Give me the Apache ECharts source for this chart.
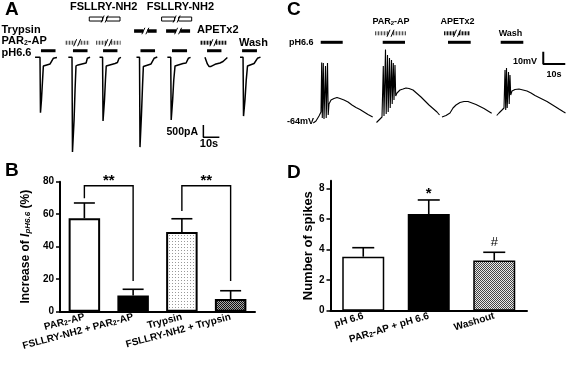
<!DOCTYPE html>
<html><head><meta charset="utf-8">
<script src="https://cdn.jsdelivr.net/npm/echarts@6/dist/echarts.min.js"></script>
<style>html,body{margin:0;padding:0;background:#fff}#c{width:567px;height:366px}</style>
</head><body><div id="c"></div>
<script>
// ---------- DATA ----------
// Panel A: whole-cell currents (time s, current pA)
const traceA1 = [[21.9,0],[25.0,0],[25.3,-2250],[25.9,-1740],[26.6,-920],[27.1,-350],[28.1,-310],[31.3,-270],[32.5,-250],[33.3,-40],[35.6,-10]];
const traceA2 = [[42.7,0],[45.0,0],[45.3,-3850],[46.3,-2550],[46.9,-1330],[47.5,-350],[48.8,-310],[52.5,-250],[53.8,-230],[54.6,-40],[56.3,0]];
const traceA3 = [[62.2,0],[64.1,0],[64.4,-2590],[65.3,-1740],[65.9,-920],[66.4,-350],[67.5,-310],[71.9,-250],[73.4,-210],[74.4,-40],[75.6,0]];
const traceA4 = [[85.3,0],[87.2,0],[87.5,-3650],[88.4,-2350],[89.1,-1130],[89.6,-370],[90.6,-310],[94.4,-270],[95.6,-230],[96.3,-40],[98.3,10]];
const traceA5 = [[104.6,0],[106.7,0],[107.0,-2550],[107.9,-1740],[108.6,-920],[109.4,-350],[110.6,-310],[114.4,-250],[116.3,-230],[117.7,-40],[119.1,0]];
const traceA6 = [[128.1,0],[129.1,0],[129.6,-270],[130.6,-370],[131.9,-370],[134.4,-285],[137.5,-230],[139.4,-170],[140.6,-90],[142.1,-10]];
const traceA7 = [[150,0],[151.9,0],[152.2,-2390],[153.1,-1740],[153.9,-920],[154.7,-350],[155.6,-310],[158.8,-250],[160,-210],[160.9,-40],[162.8,10]];
// drug applications in A (start s, end s)
const pHA   = [[25.6,34.7],[45.6,54.7],[64.4,73.4],[87.8,96.9],[107.5,116.9],[129.4,138.4],[151.3,160.6]];
const par2A = [[40.6,55.8],[60.0,75.4]];
const apetA = [[125.0,141.7]];
const trypA = [[83.8,97.9],[103.8,118.8]];
const fslA  = [[55.8,75.0],[101.0,119.8]];

// Panel C: membrane potential (time s, mV)
const traceC1 = [[13.77,-67.7],[15.0,-66.1],[16.36,-62.05],[17.27,-58.8],[17.59,-18.55],[17.86,-63.67],[18.32,-18.96],[18.64,-64.49],[19.32,-21.4],[19.64,-63.67],[20.23,-18.96],[20.55,-61.24],[20.91,-52.29],[21.82,-49.04],[23.18,-47.82],[24.55,-47.01],[25.91,-47.82],[27.73,-49.04],[29.55,-50.67],[31.36,-53.11],[33.18,-55.14],[35.0,-56.76],[36.82,-58.8],[38.64,-60.83],[40.77,-62.86]];
const traceC2 = [[42.5,-67.33],[43.64,-65.3],[45.0,-62.86],[45.59,-21.4],[45.91,-62.05],[46.59,-7.98],[46.91,-60.42],[47.5,-12.46],[47.82,-58.8],[48.41,-14.89],[48.73,-55.54],[49.32,-16.52],[49.64,-52.29],[50.14,-18.96],[50.45,-49.04],[50.91,-20.59],[51.23,-45.79],[51.82,-43.35],[53.18,-40.91],[54.55,-40.1],[55.91,-39.28],[57.27,-39.69],[59.09,-40.91],[60.91,-43.76],[62.73,-46.6],[64.55,-49.85],[66.36,-53.11],[68.18,-55.95],[70.0,-58.8],[71.14,-61.24]];
const traceC3 = [[72.27,-62.86],[74.09,-61.64],[75.91,-59.61],[77.27,-55.54],[78.64,-53.11],[80.45,-51.07],[82.27,-50.26],[84.09,-50.26],[85.91,-51.48],[87.73,-52.7],[89.55,-54.32],[91.36,-55.95],[93.18,-57.98],[94.86,-59.85]];
const traceC4 = [[97.14,-61.64],[98.18,-59.61],[99.55,-57.17],[100.45,-55.54],[100.91,-24.65],[101.23,-57.17],[101.59,-23.02],[101.91,-55.54],[102.5,-26.28],[102.82,-52.29],[103.18,-28.72],[103.5,-44.98],[104.09,-41.72],[105.45,-40.5],[107.27,-40.1],[109.09,-40.91],[110.91,-41.72],[112.73,-43.35],[114.55,-45.38],[116.36,-47.01],[118.18,-48.63],[120.0,-50.26],[121.82,-52.29],[123.64,-54.32],[125.45,-56.36],[127.27,-58.39],[128.41,-59.61]];
const pHC   = [[17.14,27.14],[45.32,55.45],[75.0,85.32],[98.95,109.23]];
const par2C = [[41.82,55.91]];
const apetC = [[73.18,85.0]];

// Panel B
const catsB = ['PAR2-AP','FSLLRY-NH2 + PAR2-AP','Trypsin','FSLLRY-NH2 + Trypsin'];
const meanB = [57.5, 9.9, 49.0, 7.8];
const semB  = [9.4, 3.9, 8.2, 5.1];
const bracketsB = [[0,1,69.8,18.9,77.5],[2,3,62.0,18.9,77.5]];
const bracketMarksB = ['**','**'];

// Panel D
const catsD = ['pH 6.6','PAR2-AP + pH 6.6','Washout'];
const meanD = [3.53, 6.32, 3.29];
const semD  = [0.59, 0.92, 0.53];
const marksD = ['', '*', '#'];

// ---------- STYLE / LAYOUT ----------
const FONT = '"Liberation Sans", Arial, Helvetica, sans-serif';
function pat(w,h,draw){const c=document.createElement('canvas');c.width=w;c.height=h;const g=c.getContext('2d');draw(g);return {image:c,repeat:'repeat'};}
const dotPat = pat(3,3,g=>{g.fillStyle='#fff';g.fillRect(0,0,3,3);g.fillStyle='#999';g.fillRect(1,1,1,1);});
const darkChk = pat(2,2,g=>{g.fillStyle='#aaa';g.fillRect(0,0,2,2);g.fillStyle='#111';g.fillRect(0,0,1,1);g.fillRect(1,1,1,1);});
const midChk = pat(2,2,g=>{g.fillStyle='#e8e8e8';g.fillRect(0,0,2,2);g.fillStyle='#444';g.fillRect(0,0,1,1);g.fillRect(1,1,1,1);});
const hatchLight = pat(3,4,g=>{g.fillStyle='#c8c8c8';g.fillRect(0,0,3,4);g.fillStyle='#555';g.fillRect(0,0,1,4);});
const hatchDark = pat(3,4,g=>{g.fillStyle='#999';g.fillRect(0,0,3,4);g.fillStyle='#111';g.fillRect(0,0,1,4);});

const kinds = {
  solid:  {h:3, brk:false, style:{fill:'#000'}},
  hLight: {h:4, brk:true,  style:{fill:hatchLight}},
  hDark:  {h:4, brk:true,  style:{fill:hatchDark}},
  black:  {h:3.5, brk:true, style:{fill:'#000'}},
  white:  {h:4, brk:true,  style:{fill:'#fff', stroke:'#000', lineWidth:1}}
};
function drugSeries(ax, intervals, level, kind){
  const k = kinds[kind];
  return {type:'custom', xAxisIndex:ax, yAxisIndex:ax, data:intervals, silent:true, z:5,
    renderItem:(params, api)=>{
      const p1 = api.coord([api.value(0), level]);
      const p2 = api.coord([api.value(1), level]);
      const y = p1[1], h = k.h;
      const ch = [];
      if(!k.brk){
        ch.push({type:'rect', shape:{x:p1[0], y:y-h/2, width:p2[0]-p1[0], height:h}, style:k.style});
      } else {
        const xm = (p1[0]+p2[0])/2, g = 2;
        ch.push({type:'rect', shape:{x:p1[0], y:y-h/2, width:xm-g-p1[0], height:h}, style:k.style});
        ch.push({type:'rect', shape:{x:xm+g, y:y-h/2, width:p2[0]-xm-g, height:h}, style:k.style});
        ch.push({type:'line', shape:{x1:xm-g-1.5, y1:y+h/2+1.5, x2:xm-g+1.5, y2:y-h/2-1.5}, style:{stroke:'#000', lineWidth:1}});
        ch.push({type:'line', shape:{x1:xm+g-1.5, y1:y+h/2+1.5, x2:xm+g+1.5, y2:y-h/2-1.5}, style:{stroke:'#000', lineWidth:1}});
      }
      return {type:'group', children:ch};
    }};
}
function traceSeries(ax, data, w){
  return {type:'line', xAxisIndex:ax, yAxisIndex:ax, data:data, symbol:'none', silent:true,
    lineStyle:{color:'#000', width:w}};
}
function scaleBar(ax, t0, v0, dt, dv, w){
  return {type:'line', xAxisIndex:ax, yAxisIndex:ax, symbol:'none', silent:true,
    data:[[t0, v0+dv],[t0, v0],[t0+dt, v0]], lineStyle:{color:'#000', width:w}};
}
function errSeries(ax, means, sems, marks, hw){
  return {type:'custom', xAxisIndex:ax, yAxisIndex:ax, z:10, silent:true,
    data: means.map((m,i)=>[i, m, m+sems[i]]),
    renderItem:(params, api)=>{
      const b = api.coord([api.value(0), api.value(1)]);
      const t = api.coord([api.value(0), api.value(2)]);
      const ch = [
        {type:'line', shape:{x1:b[0], y1:b[1], x2:t[0], y2:t[1]}, style:{stroke:'#000', lineWidth:1.6}},
        {type:'line', shape:{x1:t[0]-hw, y1:t[1], x2:t[0]+hw, y2:t[1]}, style:{stroke:'#000', lineWidth:1.6}}
      ];
      const mk = marks ? marks[params.dataIndex] : '';
      if(mk){
        const star = mk.indexOf('*')>=0;
        ch.push({type:'text', x:t[0], y:t[1]-(star?6:10), style:{text:mk, fill:'#000',
          font:(star?'bold 15px ':'13px ')+FONT, align:'center', verticalAlign:'middle', textAlign:'center', textVerticalAlign:'middle'}});
      }
      return {type:'group', children:ch};
    }};
}
function bracketSeries(ax, brs, marks){
  return {type:'custom', xAxisIndex:ax, yAxisIndex:ax, z:10, silent:true, data:brs,
    renderItem:(params, api)=>{
      const a = api.coord([api.value(0), api.value(2)]);
      const at = api.coord([api.value(0), api.value(4)]);
      const bt = api.coord([api.value(1), api.value(4)]);
      const b = api.coord([api.value(1), api.value(3)]);
      return {type:'group', children:[
        {type:'polyline', shape:{points:[a, at, bt, b]}, style:{stroke:'#000', lineWidth:1.4, fill:null}},
        {type:'text', x:(at[0]+bt[0])/2, y:at[1]-5, style:{text:marks[params.dataIndex], fill:'#000',
          font:'bold 15px '+FONT, align:'center', verticalAlign:'middle', textAlign:'center', textVerticalAlign:'middle'}}
      ]};
    }};
}
function txt(x, y, text, size, align, extra){
  return Object.assign({type:'text', x:x, y:y, silent:true, style:{text:text, fill:'#000',
    font:'bold '+size+'px '+FONT, align:align||'left', verticalAlign:'middle',
    textAlign:align||'left', textVerticalAlign:'middle',
    rich:{s:{fontSize:Math.round(size*0.65), fontWeight:'bold', fontFamily:FONT, verticalAlign:'bottom', fill:'#000'}}}}, extra||{});
}
const subFmt = v => v.replace('PAR2','PAR{s|2}');
const barLabel = {rotate:15, interval:0, margin:5, color:'#000', fontFamily:FONT, fontWeight:'bold', fontSize:10,
  formatter: subFmt, rich:{s:{fontSize:7, fontWeight:'bold', fontFamily:FONT, color:'#000', verticalAlign:'bottom'}}};
const yLab = {color:'#000', fontFamily:FONT, fontWeight:'bold', fontSize:10, margin:6};
const axLine = {show:true, lineStyle:{color:'#000', width:2}};
const axTick = {show:true, length:4, lineStyle:{color:'#000', width:1.5}};

const fillsB = ['#fff', '#000', dotPat, darkChk];
const fillsD = ['#fff', '#000', midChk];

const chart = echarts.init(document.getElementById('c'), null, {renderer:'canvas'});
chart.setOption({
  animation:false,
  backgroundColor:'#fff',
  grid:[
    {left:0, top:0, width:280, height:160},
    {left:283, top:20, width:284, height:110.7},
    {left:60, top:181.7, width:195, height:130},
    {left:330.5, top:180.7, width:196.5, height:130}
  ],
  xAxis:[
    {type:'value', gridIndex:0, min:0, max:175, show:false},
    {type:'value', gridIndex:1, min:0, max:129.09, show:false},
    {type:'category', gridIndex:2, data:catsB, axisLine:axLine, axisTick:{show:false}, axisLabel:barLabel},
    {type:'category', gridIndex:3, data:catsD, axisLine:axLine, axisTick:{show:false}, axisLabel:Object.assign({}, barLabel, {rotate:17})}
  ],
  yAxis:[
    {type:'value', gridIndex:0, min:-4174, max:2330, show:false},
    {type:'value', gridIndex:1, min:-74, max:16, show:false},
    {type:'value', gridIndex:2, min:0, max:80, interval:20, axisLine:axLine, axisTick:axTick, splitLine:{show:false}, axisLabel:yLab,
      name:'Increase of {i|I}{s|pH6.6} (%)', nameLocation:'middle', nameGap:28,
      nameTextStyle:{color:'#000', fontFamily:FONT, fontWeight:'bold', fontSize:12,
        rich:{i:{fontStyle:'italic', fontWeight:'bold', fontSize:12, fontFamily:FONT, color:'#000'},
              s:{fontStyle:'italic', fontWeight:'bold', fontSize:8, fontFamily:FONT, color:'#000', verticalAlign:'bottom'}}}},
    {type:'value', gridIndex:3, min:0, max:8.5, interval:2, axisLine:axLine, axisTick:axTick, splitLine:{show:false}, axisLabel:yLab,
      name:'Number of spikes', nameLocation:'middle', nameGap:14,
      nameTextStyle:{color:'#000', fontFamily:FONT, fontWeight:'bold', fontSize:13}}
  ],
  series:[
    traceSeries(0, traceA1, 1.5), traceSeries(0, traceA2, 1.5), traceSeries(0, traceA3, 1.5),
    traceSeries(0, traceA4, 1.5), traceSeries(0, traceA5, 1.5), traceSeries(0, traceA6, 1.5), traceSeries(0, traceA7, 1.5),
    drugSeries(0, pHA, 268, 'solid'),
    drugSeries(0, par2A, 593, 'hLight'),
    drugSeries(0, apetA, 593, 'hDark'),
    drugSeries(0, trypA, 1069, 'black'),
    drugSeries(0, fslA, 1557, 'white'),
    scaleBar(0, 127.1, -3252, 10, 500, 1.5),
    traceSeries(1, traceC1, 1.1), traceSeries(1, traceC2, 1.1), traceSeries(1, traceC3, 1.1), traceSeries(1, traceC4, 1.1),
    drugSeries(1, pHC, -2.13, 'solid'),
    drugSeries(1, par2C, 5.19, 'hLight'),
    drugSeries(1, apetC, 5.19, 'hDark'),
    scaleBar(1, 118.3, -19.77, 10, 10, 2),
    {type:'bar', xAxisIndex:2, yAxisIndex:2, barWidth:31.5, silent:true,
      data: meanB.map((v,i)=>({value:v, itemStyle:{color:fillsB[i], borderColor:'#000', borderWidth:2}}))},
    errSeries(2, meanB, semB, null, 10.5),
    bracketSeries(2, bracketsB, bracketMarksB),
    {type:'bar', xAxisIndex:3, yAxisIndex:3, barWidth:42, silent:true,
      data: meanD.map((v,i)=>({value:v, itemStyle:{color:fillsD[i], borderColor:'#000', borderWidth:1.5}}))},
    errSeries(3, meanD, semD, marksD, 11)
  ],
  graphic:[
    txt(5, 10, 'A', 19), txt(5, 170.3, 'B', 19), txt(287, 9.7, 'C', 19), txt(287, 172.3, 'D', 19),
    txt(1.5, 30, 'Trypsin', 11), txt(1.5, 41.2, 'PAR{s|2}-AP', 11), txt(1.5, 53.2, 'pH6.6', 11),
    txt(70, 6.6, 'FSLLRY-NH2', 11), txt(146.7, 6.6, 'FSLLRY-NH2', 11),
    txt(197, 30.3, 'APETx2', 11), txt(239, 43.3, 'Wash', 11),
    txt(198, 132.3, '500pA', 10.5, 'right'), txt(209, 144.2, '10s', 11, 'center'),
    txt(289, 43, 'pH6.6', 9), txt(391, 21.8, 'PAR{s|2}-AP', 9, 'center'), txt(457.5, 21.8, 'APETx2', 9, 'center'),
    txt(510.5, 33.3, 'Wash', 9, 'center'), txt(537, 62, '10mV', 9, 'right'), txt(554, 75, '10s', 9, 'center'),
    txt(287, 122, '-64mV', 9)
  ]
});
</script></body></html>
